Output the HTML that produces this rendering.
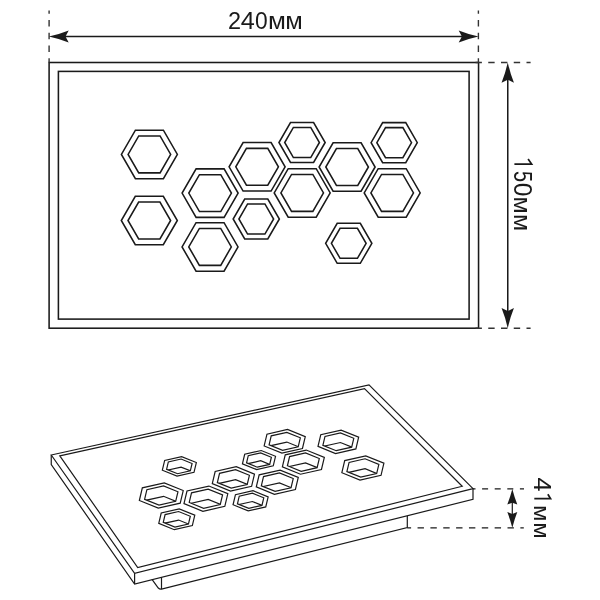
<!DOCTYPE html>
<html><head><meta charset="utf-8"><style>
html,body{margin:0;padding:0;background:#fff;width:600px;height:600px;overflow:hidden}
svg{position:absolute;left:0;top:0;will-change:transform}
.t{font-family:"Liberation Sans",sans-serif;fill:#1a1a1a}
</style></head><body>
<svg width="600" height="600" viewBox="0 0 600 600">
<defs><clipPath id="c0"><polygon points="144.6,499.3 146.88,489.69 163.56,485.91 177.96,491.74 175.68,501.35 159,505.13"/></clipPath><clipPath id="c1"><polygon points="322.88,445.3 324.99,436.4 340.44,432.9 353.78,438.3 351.67,447.2 336.22,450.7"/></clipPath><clipPath id="c2"><polygon points="217.35,482.53 219.54,473.29 235.57,469.66 249.41,475.27 247.22,484.51 231.19,488.14"/></clipPath><clipPath id="c3"><polygon points="346.9,471.59 349.08,462.38 365.06,458.76 378.86,464.35 376.68,473.56 360.7,477.18"/></clipPath><clipPath id="c4"><polygon points="269.09,444.86 271.22,435.86 286.84,432.32 300.33,437.78 298.2,446.78 282.58,450.32"/></clipPath><clipPath id="c5"><polygon points="287.41,465.74 289.59,456.55 305.53,452.94 319.29,458.52 317.11,467.71 301.17,471.32"/></clipPath><clipPath id="c6"><polygon points="261.33,485.77 263.51,476.58 279.46,472.97 293.23,478.55 291.05,487.74 275.1,491.35"/></clipPath><clipPath id="c7"><polygon points="189.24,502.45 191.52,492.85 208.18,489.08 222.56,494.91 220.28,504.51 203.62,508.28"/></clipPath><clipPath id="c8"><polygon points="166.59,469.27 168.33,461.92 181.08,459.03 192.09,463.49 190.35,470.84 177.6,473.73"/></clipPath><clipPath id="c9"><polygon points="163.26,522.36 165.11,514.57 178.63,511.51 190.3,516.24 188.45,524.03 174.93,527.09"/></clipPath><clipPath id="c10"><polygon points="237.44,503.77 239.24,496.19 252.4,493.21 263.76,497.81 261.96,505.39 248.8,508.37"/></clipPath><clipPath id="c11"><polygon points="246.56,462.87 248.26,455.72 260.67,452.91 271.38,457.25 269.68,464.4 257.27,467.21"/></clipPath></defs>
<g fill="none" stroke="#1a1a1a" stroke-width="1.55" stroke-linejoin="miter">
<rect x="49.1" y="62.5" width="429.45" height="265.7"/>
<rect x="58.4" y="71.4" width="410.7" height="247.7"/>
<polygon points="177.4,154.4 163.4,178.65 135.4,178.65 121.4,154.4 135.4,130.15 163.4,130.15"/>
<polygon points="170.7,154.4 160.05,172.85 138.75,172.85 128.1,154.4 138.75,135.95 160.05,135.95"/>
<polygon points="177.3,220.5 163.3,244.75 135.3,244.75 121.3,220.5 135.3,196.25 163.3,196.25"/>
<polygon points="170.6,220.5 159.95,238.95 138.65,238.95 128,220.5 138.65,202.05 159.95,202.05"/>
<polygon points="238.1,193.1 224.1,217.35 196.1,217.35 182.1,193.1 196.1,168.85 224.1,168.85"/>
<polygon points="231.4,193.1 220.75,211.55 199.45,211.55 188.8,193.1 199.45,174.65 220.75,174.65"/>
<polygon points="238.05,246.9 224.05,271.15 196.05,271.15 182.05,246.9 196.05,222.65 224.05,222.65"/>
<polygon points="231.35,246.9 220.7,265.35 199.4,265.35 188.75,246.9 199.4,228.45 220.7,228.45"/>
<polygon points="285.1,166.8 271.1,191.05 243.1,191.05 229.1,166.8 243.1,142.55 271.1,142.55"/>
<polygon points="278.4,166.8 267.75,185.25 246.45,185.25 235.8,166.8 246.45,148.35 267.75,148.35"/>
<polygon points="279.35,219 267.8,239.01 244.7,239.01 233.15,219 244.7,198.99 267.8,198.99"/>
<polygon points="273.6,219 264.93,234.03 247.57,234.03 238.9,219 247.57,203.97 264.93,203.97"/>
<polygon points="325.15,142.5 313.6,162.51 290.5,162.51 278.95,142.5 290.5,122.49 313.6,122.49"/>
<polygon points="319.4,142.5 310.73,157.53 293.38,157.53 284.7,142.5 293.38,127.47 310.73,127.47"/>
<polygon points="330.2,192.9 316.2,217.15 288.2,217.15 274.2,192.9 288.2,168.65 316.2,168.65"/>
<polygon points="323.5,192.9 312.85,211.35 291.55,211.35 280.9,192.9 291.55,174.45 312.85,174.45"/>
<polygon points="375.1,167 361.1,191.25 333.1,191.25 319.1,167 333.1,142.75 361.1,142.75"/>
<polygon points="368.4,167 357.75,185.45 336.45,185.45 325.8,167 336.45,148.55 357.75,148.55"/>
<polygon points="371.85,243.3 360.3,263.31 337.2,263.31 325.65,243.3 337.2,223.29 360.3,223.29"/>
<polygon points="366.1,243.3 357.43,258.33 340.07,258.33 331.4,243.3 340.07,228.27 357.43,228.27"/>
<polygon points="417.3,142.65 405.75,162.66 382.65,162.66 371.1,142.65 382.65,122.64 405.75,122.64"/>
<polygon points="411.55,142.65 402.88,157.68 385.52,157.68 376.85,142.65 385.52,127.62 402.88,127.62"/>
<polygon points="420.2,192.9 406.2,217.15 378.2,217.15 364.2,192.9 378.2,168.65 406.2,168.65"/>
<polygon points="413.5,192.9 402.85,211.35 381.55,211.35 370.9,192.9 381.55,174.45 402.85,174.45"/>
<line x1="55" y1="36.4" x2="472" y2="36.4"/>
<line x1="507.75" y1="75" x2="507.75" y2="315"/>
</g>
<g fill="none" stroke="#333" stroke-width="1.4" stroke-dasharray="6.4 6.35">
<line x1="49.1" y1="10.4" x2="49.1" y2="62.5" stroke-dashoffset="3.05"/>
<line x1="478.4" y1="10.4" x2="478.4" y2="62.5" stroke-dashoffset="3.05"/>
<line x1="475.5" y1="62.5" x2="530.6" y2="62.5"/>
<line x1="475.5" y1="328.2" x2="530.6" y2="328.2"/>
</g>
<g fill="#1a1a1a" stroke="none"><path class="ah" d="M48.9,36.4 Q59.79,34 68.7,30.4 L65.5,36.4 L68.7,42.4 Q59.79,38.8 48.9,36.4Z"/><path class="ah" d="M478.5,36.4 Q467.61,38.8 458.7,42.4 L461.9,36.4 L458.7,30.4 Q467.61,34 478.5,36.4Z"/><path class="ah" d="M507.75,62.5 Q510.23,73.61 513.95,82.7 L507.75,79.7 L501.55,82.7 Q505.27,73.61 507.75,62.5Z"/><path class="ah" d="M507.75,328.2 Q505.27,317.09 501.55,308 L507.75,311 L513.95,308 Q510.23,317.09 507.75,328.2Z"/><path class="ah" d="M512.3,488.9 Q514.55,497.48 517.3,504.5 L512.3,502.7 L507.3,504.5 Q510.05,497.48 512.3,488.9Z"/><path class="ah" d="M512.3,527.7 Q510.05,519.12 507.3,512.1 L512.3,513.9 L517.3,512.1 Q514.55,519.12 512.3,527.7Z"/></g>
<g fill="none" stroke="#1a1a1a" stroke-width="1.2" stroke-linejoin="miter">
<polygon points="51.25,455 369,384.9 473,488.7 134.6,573.3"/>
<polygon points="59.8,455.8 364.5,388.7 462.2,486.3 137.7,567.5"/>
<polyline points="51.25,455 51.25,464.6 134.6,584.1 473,499.3 473,488.7"/>
<line x1="134.6" y1="573.3" x2="134.6" y2="584.1"/>
<path d="M152,579.4 L158.3,588 Q159.6,589.4 161.5,589.1 L407.3,527.6 L407.3,516.1"/>
<line x1="161.5" y1="577" x2="161.5" y2="589.1"/>
<polygon points="139.34,500.49 142.34,487.85 164.28,482.88 183.22,490.55 180.22,503.19 158.28,508.16"/>
<polygon points="144.6,499.3 146.88,489.69 163.56,485.91 177.96,491.74 175.68,501.35 159,505.13"/>
<polygon clip-path="url(#c0)" points="144.6,509.69 146.88,500.09 163.56,496.31 177.96,502.14 175.68,511.75 159,515.53"/>
<polygon points="318,446.4 320.78,434.69 341.11,430.09 358.66,437.2 355.88,448.91 335.55,453.51"/>
<polygon points="322.88,445.3 324.99,436.4 340.44,432.9 353.78,438.3 351.67,447.2 336.22,450.7"/>
<polygon clip-path="url(#c1)" points="322.88,454.93 324.99,446.03 340.44,442.53 353.78,447.93 351.67,456.84 336.22,460.34"/>
<polygon points="212.28,483.68 215.17,471.52 236.26,466.74 254.48,474.12 251.59,486.28 230.5,491.06"/>
<polygon points="217.35,482.53 219.54,473.29 235.57,469.66 249.41,475.27 247.22,484.51 231.19,488.14"/>
<polygon clip-path="url(#c2)" points="217.35,492.53 219.54,483.29 235.57,479.66 249.41,485.27 247.22,494.51 231.19,498.14"/>
<polygon points="341.85,472.73 344.72,460.61 365.75,455.85 383.91,463.21 381.04,475.33 360.01,480.09"/>
<polygon points="346.9,471.59 349.08,462.38 365.06,458.76 378.86,464.35 376.68,473.56 360.7,477.18"/>
<polygon clip-path="url(#c3)" points="346.9,481.56 349.08,472.35 365.06,468.73 378.86,474.32 376.68,483.53 360.7,487.15"/>
<polygon points="264.16,445.98 266.96,434.13 287.52,429.48 305.26,436.66 302.46,448.51 281.9,453.16"/>
<polygon points="269.09,444.86 271.22,435.86 286.84,432.32 300.33,437.78 298.2,446.78 282.58,450.32"/>
<polygon clip-path="url(#c4)" points="269.09,454.6 271.22,445.6 286.84,442.06 300.33,447.52 298.2,456.52 282.58,460.06"/>
<polygon points="282.37,466.88 285.24,454.79 306.22,450.04 324.33,457.38 321.46,469.47 300.48,474.22"/>
<polygon points="287.41,465.74 289.59,456.55 305.53,452.94 319.29,458.52 317.11,467.71 301.17,471.32"/>
<polygon clip-path="url(#c5)" points="287.41,475.68 289.59,466.49 305.53,462.88 319.29,468.46 317.11,477.65 301.17,481.26"/>
<polygon points="256.29,486.91 259.16,474.82 280.15,470.07 298.27,477.41 295.4,489.5 274.41,494.25"/>
<polygon points="261.33,485.77 263.51,476.58 279.46,472.97 293.23,478.55 291.05,487.74 275.1,491.35"/>
<polygon clip-path="url(#c6)" points="261.33,495.72 263.51,486.53 279.46,482.91 293.23,488.49 291.05,497.69 275.1,501.3"/>
<polygon points="183.98,503.64 186.98,491.01 208.9,486.05 227.82,493.72 224.82,506.35 202.9,511.31"/>
<polygon points="189.24,502.45 191.52,492.85 208.18,489.08 222.56,494.91 220.28,504.51 203.62,508.28"/>
<polygon clip-path="url(#c7)" points="189.24,512.84 191.52,503.24 208.18,499.47 222.56,505.29 220.28,514.89 203.62,518.67"/>
<polygon points="162.34,470.23 164.67,460.43 181.66,456.59 196.34,462.53 194.01,472.33 177.02,476.17"/>
<polygon points="166.59,469.27 168.33,461.92 181.08,459.03 192.09,463.49 190.35,470.84 177.6,473.73"/>
<polygon clip-path="url(#c8)" points="166.59,477.32 168.33,469.98 181.08,467.09 192.09,471.55 190.35,478.89 177.6,481.78"/>
<polygon points="158.76,523.38 161.22,513 179.24,508.91 194.8,515.22 192.34,525.6 174.32,529.69"/>
<polygon points="163.26,522.36 165.11,514.57 178.63,511.51 190.3,516.24 188.45,524.03 174.93,527.09"/>
<polygon clip-path="url(#c9)" points="163.26,530.9 165.11,523.11 178.63,520.05 190.3,524.78 188.45,532.57 174.93,535.63"/>
<polygon points="233.05,504.76 235.45,494.65 253,490.68 268.15,496.82 265.75,506.93 248.2,510.9"/>
<polygon points="237.44,503.77 239.24,496.19 252.4,493.21 263.76,497.81 261.96,505.39 248.8,508.37"/>
<polygon clip-path="url(#c10)" points="237.44,512.09 239.24,504.5 252.4,501.52 263.76,506.13 261.96,513.71 248.8,516.69"/>
<polygon points="242.42,463.81 244.68,454.27 261.23,450.52 275.52,456.31 273.26,465.85 256.71,469.6"/>
<polygon points="246.56,462.87 248.26,455.72 260.67,452.91 271.38,457.25 269.68,464.4 257.27,467.21"/>
<polygon clip-path="url(#c11)" points="246.56,470.71 248.26,463.56 260.67,460.75 271.38,465.09 269.68,472.24 257.27,475.05"/>
<line x1="512.3" y1="500" x2="512.3" y2="516"/>
</g>
<g fill="none" stroke="#1a1a1a" stroke-width="1.3" stroke-dasharray="6 6.6">
<line x1="473" y1="488.9" x2="524" y2="488.9" stroke-dashoffset="3.5"/>
<line x1="407.3" y1="527.9" x2="523.8" y2="527.9" stroke-dasharray="6.4 6.45" stroke-dashoffset="2.6"/>
</g>
<text class="t" font-size="24.4" transform="translate(228.12,28.9) scale(0.9626,1.0096)">2</text>
<text class="t" font-size="24.4" transform="translate(240.72,28.9) scale(1.0329,1.0127)">4</text>
<text class="t" font-size="24.4" transform="translate(255.11,28.9) scale(0.9345,1.0096)">0</text>
<text class="t" font-size="23.6" transform="translate(267.9,28.9) scale(1.1031,1.0025)">м</text>
<text class="t" font-size="23.6" transform="translate(285.13,28.9) scale(1.0799,1.0025)">м</text>
<g transform="translate(514.3,0) rotate(90)"><text class="t" font-size="24.4" transform="translate(170.91,0) scale(0.8125,1.0365)">5</text><text class="t" font-size="24.4" transform="translate(182.74,0) scale(1.0031,1.0213)">0</text><text class="t" font-size="23.6" transform="translate(196.57,0) scale(1.0568,0.9785)">м</text><text class="t" font-size="23.6" transform="translate(213.97,0) scale(1.0568,0.9785)">м</text></g>
<g transform="translate(534.2,0) rotate(90)"><text class="t" font-size="23.6" transform="translate(477.42,0) scale(1.0763,1.0162)">4</text><text class="t" font-size="21.6" transform="translate(505.05,0) scale(1.1041,0.9990)">м</text><text class="t" font-size="21.6" transform="translate(522.35,0) scale(1.1041,0.9990)">м</text></g>
<g fill="none" stroke="#1a1a1a" stroke-width="1.75" stroke-miterlimit="10"><polyline points="528.1,159.1 531.6,164.05 514.4,164.05"/><polyline points="547.85,494.3 550.5,498.5 534.3,498.5"/></g>
</svg>
</body></html>
